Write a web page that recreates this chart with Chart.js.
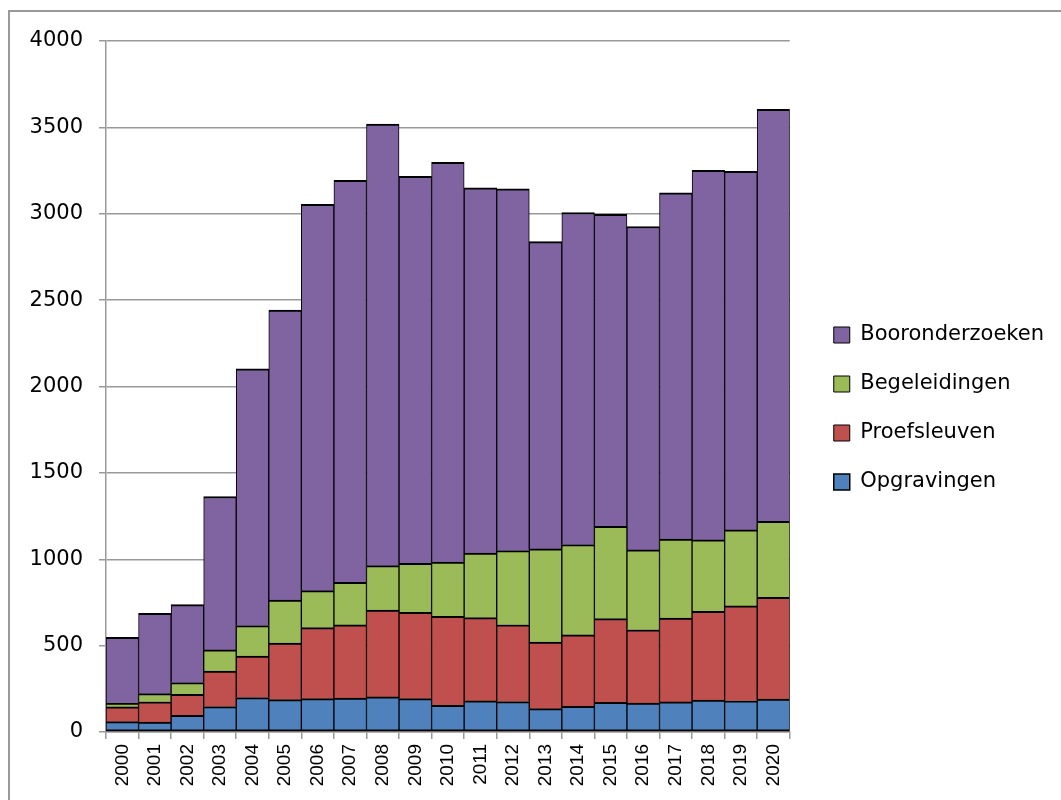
<!DOCTYPE html>
<html lang="nl">
<head>
  <meta charset="UTF-8">
  <title>Onderzoeken per jaar</title>
  <script src="https://cdn.jsdelivr.net/npm/chart.js"></script>
  <style>
    body { margin: 0; overflow: hidden; background: #fff; }
    #frame { position: absolute; left: 8px; top: 10px; width: 1100px; height: 900px; border: 2px solid #999; }
    #chart { position: absolute; left: 0; top: 0; }
  </style>
</head>
<body>
  <div id="frame"></div>
  <canvas id="chart" width="1054" height="800"></canvas>

  <script>
    const years = ['2000', '2001', '2002', '2003', '2004', '2005', '2006', '2007', '2008', '2009', '2010',
                   '2011', '2012', '2013', '2014', '2015', '2016', '2017', '2018', '2019', '2020'];
    const opgravingen = [60, 58, 97, 147, 199, 187, 193, 197, 203, 193, 155, 180, 176, 135, 149, 172, 168, 174, 185, 181, 191];
    const proefsleuven = [85, 117, 121, 206, 241, 328, 411, 423, 503, 500, 515, 482, 445, 386, 413, 484, 424, 486, 514, 549, 589];
    const begeleidingen = [21, 47, 68, 122, 176, 249, 214, 247, 257, 284, 314, 374, 429, 539, 523, 535, 462, 457, 413, 440, 440];
    const booronderzoeken = [382, 465, 451, 888, 1486, 1679, 2236, 2326, 2556, 2239, 2313, 2114, 2094, 1779, 1922, 1806, 1872, 2004, 2140, 2076, 2385];
    const yTicks = [0, 500, 1000, 1500, 2000, 2500, 3000, 3500, 4000];

    const edge = { top: 2, right: 1, bottom: 0, left: 1 };

    const ctx = document.getElementById('chart').getContext('2d');
    new Chart(ctx, {
      type: 'bar',
      data: {
        labels: years,
        datasets: [
          { label: 'Opgravingen', data: opgravingen, backgroundColor: '#4F81BD', borderColor: '#000',
            borderWidth: { top: 2, right: 1, bottom: 2, left: 1 }, borderSkipped: false },
          { label: 'Proefsleuven', data: proefsleuven, backgroundColor: '#C0504D', borderColor: '#000',
            borderWidth: edge, borderSkipped: false },
          { label: 'Begeleidingen', data: begeleidingen, backgroundColor: '#9BBB59', borderColor: '#000',
            borderWidth: edge, borderSkipped: false },
          { label: 'Booronderzoeken', data: booronderzoeken, backgroundColor: '#8064A2', borderColor: '#000',
            borderWidth: edge, borderSkipped: false },
        ],
      },
      options: {
        responsive: false,
        animation: false,
        layout: { padding: { top: 17, left: 0, right: 0, bottom: 0 } },
        datasets: { bar: { categoryPercentage: 1, barPercentage: 1 } },
        scales: {
          x: {
            stacked: true,
            grid: { display: true, drawOnChartArea: false, drawTicks: true, tickLength: 7, color: '#999', lineWidth: 1.5, offset: true },
            border: { color: '#999', width: 1.5 },
            ticks: { autoSkip: false, minRotation: 90, maxRotation: 90, padding: 5, color: '#000',
                     font: { family: 'Liberation Sans', size: 19 } },
            afterFit: s => { s.height = 68; },
          },
          y: {
            stacked: true,
            min: yTicks[0],
            max: yTicks[yTicks.length - 1],
            afterBuildTicks: s => { s.ticks = yTicks.map(v => ({ value: v })); },
            ticks: { padding: 16, color: '#000', font: { family: 'DejaVu Sans', size: 21 },
                     callback: v => String(v) },
            grid: { color: '#999', lineWidth: 1.5, tickLength: 7 },
            border: { color: '#999', width: 1.5 },
            afterFit: s => { s.width = 106; },
          },
          // empty spacer axis between the plot and the legend
          gap: {
            type: 'linear',
            axis: 'y',
            position: 'right',
            display: true,
            grid: { display: false },
            border: { display: false },
            ticks: { display: false },
            afterFit: s => { s.width = 16; },
          },
        },
        plugins: {
          title: { display: true, text: ' ', fullSize: false, font: { size: 1, lineHeight: 1 }, padding: { top: 0, bottom: 23 } },
          legend: {
            position: 'right',
            reverse: true,
            maxWidth: 400,
            labels: { boxWidth: 16, boxHeight: 16, padding: 28, color: '#000',
                      font: { family: 'DejaVu Sans', size: 21 } },
          },
          tooltip: { enabled: false },
        },
      },
    });
  </script>
</body>
</html>
